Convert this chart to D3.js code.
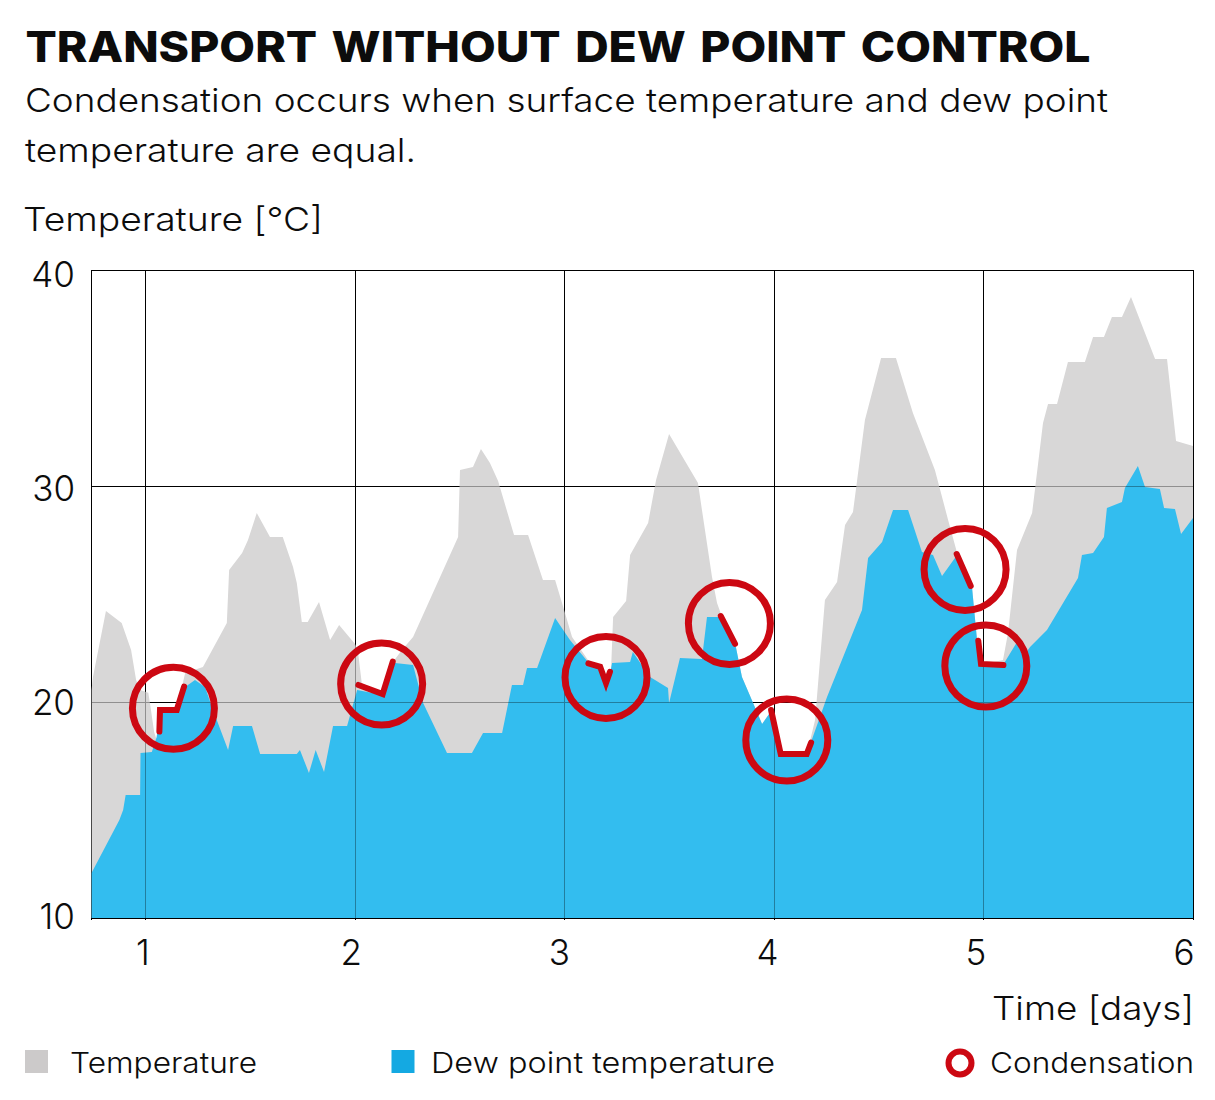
<!DOCTYPE html>
<html>
<head>
<meta charset="utf-8">
<script src="https://cdn.jsdelivr.net/npm/d3@7"></script>
<style>
  html, body { margin: 0; padding: 0; background: #fff; }
  text { font-family: Inter, "Noto Sans", sans-serif; fill: #0c0c0c; }
</style>
</head>
<body>
<svg id="chart" width="1215" height="1100"></svg>
<script>
// Temperature outline: time in days, value in degrees C
var tempTime = [0.742,0.749,0.811,0.886,0.931,0.955,0.974,1.013,1.021,1.041,1.053,1.069,1.149,1.189,1.274,1.388,1.399,1.461,1.489,1.531,1.594,1.655,1.704,1.722,1.746,1.774,1.828,1.881,1.924,2.000,2.013,2.032,2.134,2.181,2.224,2.277,2.492,2.501,2.563,2.601,2.644,2.683,2.759,2.826,2.897,2.955,2.998,3.036,3.112,3.179,3.203,3.222,3.232,3.294,3.313,3.399,3.437,3.499,3.637,3.656,3.704,3.728,3.752,3.814,3.847,3.943,3.990,4.033,4.158,4.196,4.243,4.301,4.339,4.377,4.434,4.511,4.582,4.663,4.768,4.831,4.874,4.945,4.969,4.983,5.093,5.117,5.160,5.232,5.284,5.308,5.351,5.403,5.484,5.523,5.575,5.613,5.661,5.704,5.819,5.876,5.919,6.000];
var tempValue = [20.56,21.16,24.21,23.66,22.41,21.02,20.56,20.43,19.95,18.61,18.24,19.63,19.63,21.34,21.62,23.66,26.11,26.90,27.50,28.75,27.64,27.64,26.25,25.51,23.70,23.70,24.63,22.87,23.56,22.69,22.41,20.88,20.37,21.85,22.41,23.01,27.64,30.74,30.88,31.71,31.06,30.23,27.73,27.73,25.65,25.65,24.26,23.01,21.94,21.62,20.65,21.48,23.94,24.68,26.81,28.29,30.28,32.41,30.14,28.89,25.79,24.58,23.94,22.73,21.16,18.98,19.63,17.64,17.64,19.17,24.72,25.56,28.19,28.80,33.06,35.93,35.93,33.38,30.74,28.43,26.90,25.32,22.87,21.71,21.94,23.19,27.04,28.75,32.92,33.80,33.80,35.74,35.74,36.90,36.90,37.82,37.82,38.75,35.88,35.88,32.08,31.85];

// Dew point outline
var dewTime = [0.742,0.875,0.893,0.905,0.974,0.976,1.030,1.053,1.069,1.149,1.189,1.236,1.284,1.322,1.340,1.394,1.418,1.508,1.547,1.722,1.737,1.780,1.812,1.852,1.895,1.962,2.010,2.134,2.191,2.277,2.325,2.439,2.558,2.611,2.702,2.749,2.802,2.821,2.869,2.955,3.026,3.112,3.179,3.203,3.227,3.313,3.326,3.408,3.432,3.494,3.499,3.551,3.656,3.680,3.742,3.814,3.847,3.943,3.990,4.033,4.158,4.253,4.420,4.449,4.516,4.568,4.640,4.706,4.759,4.802,4.874,4.945,4.969,4.983,5.093,5.160,5.189,5.222,5.303,5.451,5.470,5.523,5.575,5.589,5.661,5.675,5.737,5.771,5.842,5.862,5.914,5.943,6.000];
var dewValue = [12.08,14.54,15.00,15.69,15.69,17.64,17.69,18.38,19.63,19.63,20.69,21.02,20.69,19.63,19.17,17.78,18.89,18.89,17.59,17.59,17.78,16.71,17.78,16.76,18.89,18.89,20.56,20.32,21.81,21.71,19.95,17.64,17.64,18.56,18.56,20.79,20.79,21.57,21.57,23.89,22.87,21.85,21.62,20.56,21.81,21.85,22.31,21.16,21.02,20.65,19.95,22.04,21.99,23.94,23.94,22.73,21.16,18.98,19.63,17.64,17.64,20.23,24.26,26.67,27.41,28.89,28.89,26.94,26.81,25.83,26.81,25.32,22.87,21.71,21.71,22.78,22.08,22.55,23.33,25.74,26.81,26.90,27.64,28.98,29.26,29.91,30.93,29.95,29.86,28.98,28.94,27.78,28.52];

// Condensation rings (centres) and the red stretches inside them
var ringTime = [1.133,2.127,3.198,3.787,4.061,4.912,5.011];
var ringValue = [19.71,20.83,21.14,23.64,18.24,26.14,21.67];
var condensation = [
  {time: [1.066,1.069,1.149,1.184], value: [18.63,19.63,19.63,20.71]},
  {time: [2.016,2.132,2.180], value: [20.79,20.37,21.87]},
  {time: [3.114,3.170,3.198,3.217], value: [21.79,21.63,20.88,21.40]},
  {time: [3.746,3.814], value: [23.98,22.69]},
  {time: [3.986,4.032,4.156,4.177], value: [19.63,17.59,17.59,18.12]},
  {time: [4.872,4.939], value: [26.85,25.37]},
  {time: [4.975,4.988,5.095], value: [22.84,21.76,21.71]}
];

var xTicks = [1,2,3,4,5,6];
var yTicks = [10,20,30,40];

var title = "TRANSPORT WITHOUT DEW POINT CONTROL";
var subtitle = ["Condensation occurs when surface temperature and dew point", "temperature are equal."];
var yLabel = "Temperature [°C]";
var xLabel = "Time [days]";

var grey = "#d8d7d7", blue = "#33bdef", red = "#cc0812";

var svg = d3.select("#chart");
var left = 91.5, right = 1193, top_ = 270, bottom = 918;

var x = d3.scaleLinear().domain([0.742, 6]).range([left, right]);
var y = d3.scaleLinear().domain([10, 40]).range([bottom, top_]);
// tick labels sit slightly off their gridlines in the original
var xLabelPos = d3.scaleLinear().domain([1, 6]).range([142.5, 1183.5]);
var yLabelPos = d3.scaleLinear().domain([10, 40]).range([916, 274]);

function pts(times, values) {
  return times.map(function(t, i) { return {t: t, v: values[i]}; });
}

var area = d3.area()
  .x(function(d) { return x(d.t); })
  .y0(y(10))
  .y1(function(d) { return y(d.v); });

var line = d3.line()
  .x(function(d) { return x(d.t); })
  .y(function(d) { return y(d.v); });

function drawGrid(g, opacity) {
  g.attr("stroke", "#000").attr("stroke-width", 1).attr("opacity", opacity).attr("shape-rendering", "crispEdges");
  g.selectAll(".v").data(xTicks.concat([0.742])).enter().append("line")
    .attr("x1", function(d) { return x(d); }).attr("x2", function(d) { return x(d); })
    .attr("y1", y(40)).attr("y2", y(10) + 2);
  g.selectAll(".h").data(yTicks).enter().append("line")
    .attr("x1", x.range()[0]).attr("x2", x.range()[1])
    .attr("y1", function(d) { return y(d); }).attr("y2", function(d) { return y(d); });
}

// black grid under the areas, then a faint copy on top so it shows through them
drawGrid(svg.append("g"), 1);

svg.append("path").datum(pts(tempTime, tempValue)).attr("d", area).attr("fill", grey);
svg.append("path").datum(pts(dewTime, dewValue)).attr("d", area).attr("fill", blue);

drawGrid(svg.append("g"), 0.33);

// red stretches
svg.selectAll(".stretch").data(condensation).enter().append("path")
  .attr("d", function(d) { return line(pts(d.time, d.value)); })
  .attr("fill", "none").attr("stroke", red).attr("stroke-width", 6).attr("stroke-linecap", "round");

// rings
svg.selectAll(".ring").data(pts(ringTime, ringValue)).enter().append("circle")
  .attr("cx", function(d) { return x(d.t); })
  .attr("cy", function(d) { return y(d.v); })
  .attr("r", 41)
  .attr("fill", "none").attr("stroke", red).attr("stroke-width", 7);

// axes, only the labels are kept
var yAxis = svg.append("g").attr("transform", "translate(75,0)")
  .call(d3.axisLeft(yLabelPos).tickValues(yTicks).tickSize(0).tickPadding(0));
yAxis.select(".domain").remove();
yAxis.selectAll("text").attr("font-size", 35).attr("font-weight", 300).attr("dy", 12.5).style("font-family", "Inter");

var xAxis = svg.append("g").attr("transform", "translate(0,965)")
  .call(d3.axisBottom(xLabelPos).tickValues(xTicks).tickFormat(d3.format("d")).tickSize(0).tickPadding(0));
xAxis.select(".domain").remove();
xAxis.selectAll("text").attr("font-size", 35).attr("font-weight", 300).attr("dy", 0).style("font-family", "Inter");

function label(txt, px, py, size, weight, width) {
  return svg.append("text").text(txt).attr("x", px).attr("y", py)
    .attr("font-size", size).attr("font-weight", weight)
    .attr("textLength", width).attr("lengthAdjust", "spacingAndGlyphs");
}

label(title, 25.5, 62, 43, 800, 1065).style("word-spacing", "4px");
label(subtitle[0], 25, 112, 33, 300, 1083);
label(subtitle[1], 25, 162, 33, 300, 391);
label(yLabel, 23, 231, 33, 300, 300);
label(xLabel, 992, 1020, 33, 300, 202);

// legend
svg.append("rect").attr("x", 25).attr("y", 1050).attr("width", 23).attr("height", 23).attr("fill", "#cccaca");
svg.append("rect").attr("x", 391.5).attr("y", 1050).attr("width", 23).attr("height", 23).attr("fill", "#14a9e2");
svg.append("circle").attr("cx", 960).attr("cy", 1063).attr("r", 11.5).attr("fill", "none").attr("stroke", red).attr("stroke-width", 6);
label("Temperature", 70, 1073, 29, 300, 187);
label("Dew point temperature", 431, 1073, 29, 300, 344);
label("Condensation", 990, 1073, 29, 300, 204);
</script>
</body>
</html>
